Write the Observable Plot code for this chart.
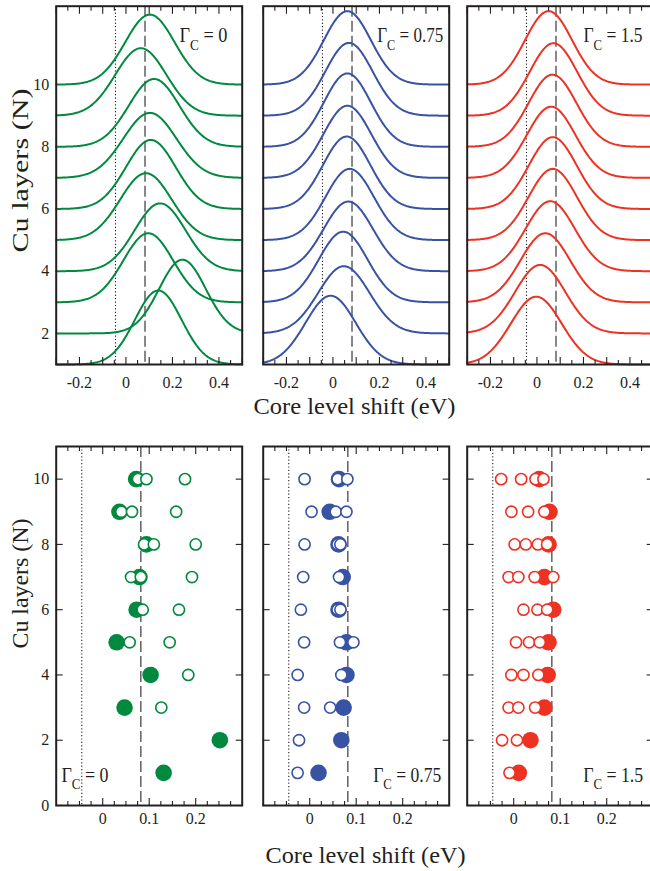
<!DOCTYPE html>
<html><head><meta charset="utf-8">
<script src="https://cdn.jsdelivr.net/npm/d3@7"></script>
<script src="https://cdn.jsdelivr.net/npm/@observablehq/plot@0.6"></script>
<style>
body{margin:0;background:#fff;}
#fig{position:relative;width:650px;height:871px;overflow:hidden;background:#fff;}
</style></head><body><div id="fig"></div>
<script>
// ---------- data ----------
const layers = [1, 2, 3, 4, 5, 6, 7, 8, 9, 10];
const gammaLabels = ["0", "0.75", "1.5"];
const seriesColors = ["#00893f", "#3953a4", "#ed3224"];

// top row: spectra for N = 1..10 (peak centre eV, peak height in layer units, Gaussian width eV)
const peakG0   = [0.139, 0.243, 0.096, 0.147, 0.086, 0.107, 0.103, 0.121, 0.064, 0.103];
const peakG075 = [-0.010, 0.047, 0.044, 0.066, 0.072, 0.059, 0.062, 0.062, 0.069, 0.062];
const peakG15  = [-0.003, 0.014, 0.036, 0.057, 0.068, 0.068, 0.061, 0.067, 0.071, 0.050];
const heightG0   = [2.38, 2.37, 2.22, 2.18, 2.15, 2.22, 2.09, 2.18, 2.17, 2.25];
const heightG075 = [2.21, 2.16, 2.27, 2.24, 2.29, 2.33, 2.32, 2.36, 2.34, 2.36];
const heightG15  = [2.18, 2.20, 2.22, 2.25, 2.29, 2.31, 2.29, 2.32, 2.33, 2.36];
const widthG0   = [0.100, 0.100, 0.107, 0.109, 0.111, 0.107, 0.114, 0.109, 0.110, 0.106];
const widthG075 = [0.108, 0.110, 0.105, 0.106, 0.104, 0.102, 0.103, 0.101, 0.102, 0.101];
const widthG15  = [0.109, 0.108, 0.107, 0.106, 0.104, 0.103, 0.104, 0.103, 0.102, 0.101];

// bottom row: filled circle (one per N) and open circles (per N)
const filledG0   = [0.131, 0.252, 0.047, 0.103, 0.030, 0.073, 0.079, 0.094, 0.036, 0.072];
const filledG075 = [0.019, 0.068, 0.073, 0.079, 0.079, 0.062, 0.071, 0.062, 0.043, 0.063];
const filledG15  = [0.011, 0.036, 0.066, 0.073, 0.075, 0.085, 0.066, 0.075, 0.077, 0.055];
const openG0 = [[], [], [0.126], [0.184], [0.058, 0.144], [0.086, 0.164],
  [0.061, 0.082, 0.192], [0.089, 0.110, 0.200], [0.040, 0.063, 0.158], [0.076, 0.094, 0.177]];
const openG075 = [[-0.026], [-0.023], [-0.012, 0.044], [-0.026, 0.068], [-0.012, 0.065, 0.094],
  [-0.019, 0.060, 0.066], [-0.014, 0.063], [-0.011, 0.060, 0.066], [0.004, 0.056, 0.079], [-0.011, 0.060, 0.081]];
const openG15 = [[-0.009], [-0.025, 0.007], [-0.011, 0.010, 0.046], [-0.005, 0.021, 0.053],
  [0.005, 0.033, 0.056], [0.021, 0.051, 0.072], [-0.011, 0.010, 0.045, 0.085],
  [0.002, 0.026, 0.052, 0.072], [-0.005, 0.031, 0.066], [-0.027, 0.016, 0.047, 0.064]];

// reference lines (eV)
const dottedRef = [-0.045];
const dashedRef = [0.082];

// tick labels
const topXLabels = [-0.2, 0, 0.2, 0.4];
const topYLabels = [2, 4, 6, 8, 10];
const botXLabels = [0, 0.1, 0.2];
const botYLabels = [0, 2, 4, 6, 8, 10];

const topPeak = [peakG0, peakG075, peakG15];
const topHeight = [heightG0, heightG075, heightG15];
const topWidth = [widthG0, widthG075, widthG15];
const filledShift = [filledG0, filledG075, filledG15];
const openShift = [openG0, openG075, openG15];

// ---------- drawing ----------
const ink = "#231f20";
const W = 650;
const panelLeft = [55.7, 262.7, 466.7], panelWidth = 186;
const fig = document.getElementById("fig");
const fmt = d => d === 0 ? "0" : String(d);
const energyGrid = d3.range(-0.3, 0.5001, 0.004);
const topMajor = d3.range(-0.3, 0.51, 0.1).map(v => +v.toFixed(3));
const topMinor = d3.range(-0.25, 0.5, 0.1).map(v => +v.toFixed(3));
const botMajor = [0, 0.1, 0.2];
const botMinor = d3.range(-0.075, 0.3, 0.025).map(v => +v.toFixed(3)).filter(v => !botMajor.includes(v));

const baseStyle = {fontFamily: "'Liberation Serif','Times New Roman',serif", fontSize: "16px",
  background: "transparent", overflow: "visible", color: ink};

function tickAxes(maj, min, yTicks) {
  const o = {tickFormat: () => "", label: null, stroke: ink, strokeWidth: 1.1};
  const m = [
    Plot.axisX(maj, {...o, anchor: "bottom", tickSize: -7}),
    Plot.axisX(min, {...o, anchor: "bottom", tickSize: -4}),
    Plot.axisX(maj, {...o, anchor: "top", tickSize: -7}),
    Plot.axisX(min, {...o, anchor: "top", tickSize: -4})
  ];
  if (yTicks) m.push(
    Plot.axisY(yTicks, {...o, anchor: "left", tickSize: -7}),
    Plot.axisY(yTicks, {...o, anchor: "right", tickSize: -7}));
  return m;
}
function refRules() {
  return [
    Plot.ruleX(dottedRef, {stroke: ink, strokeWidth: 1.1, strokeDasharray: "1.2,2.2"}),
    Plot.ruleX(dashedRef, {stroke: "#555", strokeWidth: 1.4, strokeDasharray: "11,4"})
  ];
}
function gammaMark(i, dx, dy, anchor) {
  return Plot.text(["ΓC = " + gammaLabels[i]], {text: d => d, frameAnchor: anchor, textAnchor: "start",
    lineAnchor: "middle", dx, dy, fontSize: 20, fill: ink});
}
function yTitle(dy) {
  return Plot.text(["Cu layers (N)"], {text: d => d, frameAnchor: "left", rotate: -90, lineAnchor: "middle",
    textAnchor: "start", dx: -35.7, dy, fontSize: 24, fill: ink});
}
function finish(svg, top, gammaLength) {
  svg.style.position = "absolute"; svg.style.left = "0px"; svg.style.top = top + "px";
  const s = d3.select(svg);
  s.selectAll("text").filter(function() { return this.textContent.startsWith("ΓC"); }).each(function() {
    const rest = this.textContent.slice(2);
    const t = d3.select(this); t.text(null);
    t.attr("textLength", gammaLength).attr("lengthAdjust", "spacingAndGlyphs");
    t.append("tspan").text("Γ");
    t.append("tspan").attr("font-size", 14.5).attr("dy", 8).text("C");
    t.append("tspan").attr("dy", -8).text(rest);
  });
  fig.appendChild(svg);
  return s;
}
function stretch(s, str, len) {
  s.selectAll("text").filter(function() { return this.textContent === str; })
    .attr("textLength", len).attr("lengthAdjust", "spacingAndGlyphs");
}

// top row
for (let i = 0; i < 3; i++) {
  const rows = [];
  layers.forEach((n, j) => energyGrid.forEach(e => rows.push({n, e,
    v: n + topHeight[i][j] * Math.exp(-((e - topPeak[i][j]) ** 2) / (2 * topWidth[i][j] ** 2))})));
  const H = 430, fTop = 5.7, fBot = 364;
  const marks = [
    ...refRules(),
    Plot.line(rows, {x: "e", y: "v", z: "n", stroke: seriesColors[i], strokeWidth: 2}),
    Plot.frame({stroke: ink, strokeWidth: 2}),
    ...tickAxes(topMajor, topMinor, null),
    Plot.axisX(topXLabels, {anchor: "bottom", tickSize: 0, tickPadding: 12, fontSize: 16, tickFormat: fmt, label: null, fill: ink}),
    gammaMark(i, [123.3, 114, 116.3][i], 29.6, "top-left")
  ];
  if (i === 0) marks.push(
    Plot.axisY(topYLabels, {anchor: "left", tickSize: 0, tickPadding: 7, fontSize: 16, label: null, fill: ink}),
    yTitle(252 - (fTop + fBot) / 2));
  if (i === 1) marks.push(Plot.text(["Core level shift (eV)"], {text: d => d, frameAnchor: "bottom",
    lineAnchor: "middle", dx: -1.7, dy: 42.3, fontSize: 24, fill: ink}));
  const svg = Plot.plot({width: W, height: H, marginLeft: panelLeft[i], marginRight: W - panelLeft[i] - panelWidth,
    marginTop: fTop, marginBottom: H - fBot, x: {domain: [-0.3, 0.5]},
    y: i === 0 ? {domain: [1, 12.52]} : {domain: [1, 12.52], axis: null},
    style: baseStyle, marks});
  const s = finish(svg, 0, [48, 66, 59][i]);
  stretch(s, "Cu layers (N)", 164);
  stretch(s, "Core level shift (eV)", 202);
}

// bottom row
for (let i = 0; i < 3; i++) {
  const filledRows = layers.map((n, j) => ({n, e: filledShift[i][j]}));
  const openRows = layers.flatMap((n, j) => openShift[i][j].map(e => ({n, e})));
  const top = 430, H = 441, fTop = 16, fBot = 375;
  const marks = [
    ...refRules(),
    Plot.dot(filledRows, {x: "e", y: "n", r: 8.3, fill: seriesColors[i], stroke: "none"}),
    Plot.dot(openRows, {x: "e", y: "n", r: 5.6, fill: "white", stroke: seriesColors[i], strokeWidth: 1.6}),
    Plot.frame({stroke: ink, strokeWidth: 2}),
    ...tickAxes(botMajor, botMinor, botYLabels),
    Plot.axisX(botXLabels, {anchor: "bottom", tickSize: 0, tickPadding: 7.5, fontSize: 16, tickFormat: fmt, label: null, fill: ink}),
    gammaMark(i, [5.3, 110, 116][i], -30.4, "bottom-left")
  ];
  if (i === 0) marks.push(
    Plot.axisY(botYLabels, {anchor: "left", tickSize: 0, tickPadding: 7, fontSize: 16, label: null, fill: ink}),
    yTitle((648 - top) - (fTop + fBot) / 2));
  if (i === 1) marks.push(Plot.text(["Core level shift (eV)"], {text: d => d, frameAnchor: "bottom",
    lineAnchor: "middle", dx: 9.3, dy: 50.3, fontSize: 24, fill: ink}));
  const svg = Plot.plot({width: W, height: H, marginLeft: panelLeft[i], marginRight: W - panelLeft[i] - panelWidth,
    marginTop: fTop, marginBottom: H - fBot, x: {domain: [-0.1, 0.3]}, y: {domain: [0, 11]},
    style: baseStyle, marks});
  const s = finish(svg, top, [47, 68, 60][i]);
  stretch(s, "Cu layers (N)", 130);
  stretch(s, "Core level shift (eV)", 200);
}
</script></body></html>
